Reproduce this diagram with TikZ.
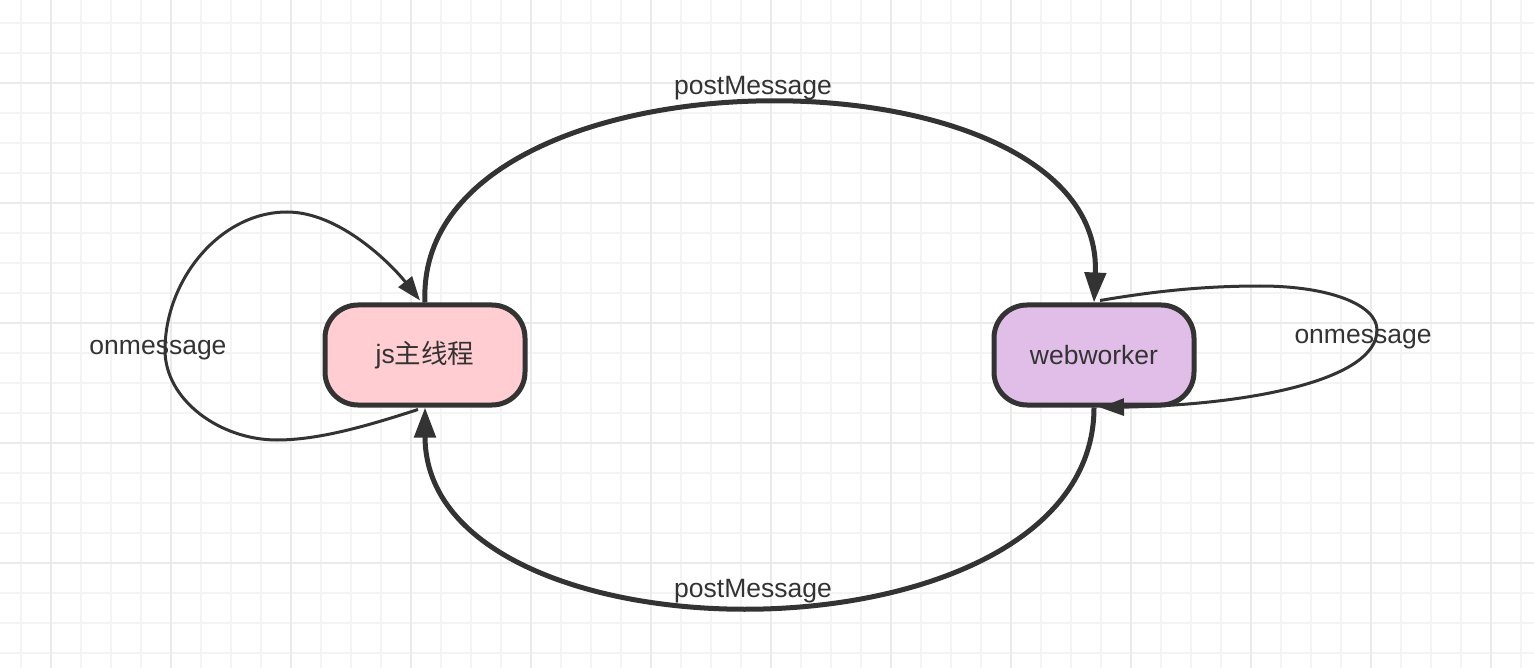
\documentclass[tikz,border=0pt]{standalone}
\usepackage{fontspec}
\setmainfont{Liberation Sans}
\newfontfamily\cjk{Noto Sans CJK SC}
\usetikzlibrary{arrows.meta,calc}
\definecolor{ink}{HTML}{333333}
\definecolor{gridminor}{HTML}{F4F4F4}
\definecolor{gridmajor}{HTML}{EAEAEA}
\definecolor{pinkfill}{HTML}{FFCDD2}
\definecolor{purplefill}{HTML}{E1BEE7}
\tikzset{
  minorline/.style={gridminor,line width=1.6pt},
  majorline/.style={gridmajor,line width=1.8pt},
  proc/.style={draw=ink,line width=5pt,rounded corners=33pt,minimum width=200pt,minimum height=100pt,text=ink,inner sep=0pt,font=\fontsize{26.5}{30}\selectfont},
  thickedge/.style={draw=ink,line width=5pt,-{Triangle[length=30pt,width=21pt]}},
  thinedge/.style={draw=ink,line width=3pt,-{Triangle[length=24pt,width=17pt]}},
  lbl/.style={text=ink,inner sep=0pt,font=\fontsize{26.5}{30}\selectfont}
}
\begin{document}
\begin{tikzpicture}[x=1pt,y=-1pt]
\useasboundingbox (0,0) rectangle (1534,668);
\fill[white] (0,0) rectangle (1534,668);
% grid
\foreach \x in {21,51,...,1531} \draw[minorline] (\x,0) -- (\x,668);
\foreach \y in {23,53,...,663} \draw[minorline] (0,\y) -- (1534,\y);
\foreach \x in {51,171,...,1531} \draw[majorline] (\x,0) -- (\x,668);
\foreach \y in {83,203,...,663} \draw[majorline] (0,\y) -- (1534,\y);
% nodes
\node[proc,fill=pinkfill] (js) at (425,355) {\raisebox{-2.5pt}{js{\cjk 主线程}}};
\node[proc,fill=purplefill] (ww) at (1094,355) {\raisebox{-2.5pt}{webworker}};
% top postMessage
\draw[thickedge] (js.north) .. controls ($(js.north)+(-12,-264)$) and ($(ww.north)+(12,-264)$) .. (ww.north);
\node[lbl] (lt) at (753,88) {postMessage};
% bottom postMessage
\draw[thickedge] (ww.south) .. controls ($(ww.south)+(0,264)$) and ($(js.south)+(0,264)$) .. (js.south);
\node[lbl] (lb) at (753,591) {postMessage};
% left loop
\coordinate (ls) at ($(js.south)+(-7,2)$);
\coordinate (le) at ($(js.north)+(-5,-2)$);
\draw[thinedge] (ls) .. controls (370,425) and (320,440) .. (277,440)
  .. controls (220,440) and (165,400) .. (165,350)
  .. controls (165,280) and (220,212) .. (287,212)
  .. controls (340,212) and (392,265) .. (le);
\node[lbl] (ll) at (158,350) {onmessage};
% right loop
\coordinate (rs) at ($(ww.north)+(6,-2)$);
\coordinate (re) at ($(ww.south)+(6,0)$);
\draw[thinedge] (rs) .. controls (1150,292) and (1200,286) .. (1260,286)
  .. controls (1330,286) and (1377,305) .. (1377,330)
  .. controls (1377,380) and (1250,405) .. (re);
\node[lbl] (lr) at (1363,339) {onmessage};
\end{tikzpicture}
\end{document}
